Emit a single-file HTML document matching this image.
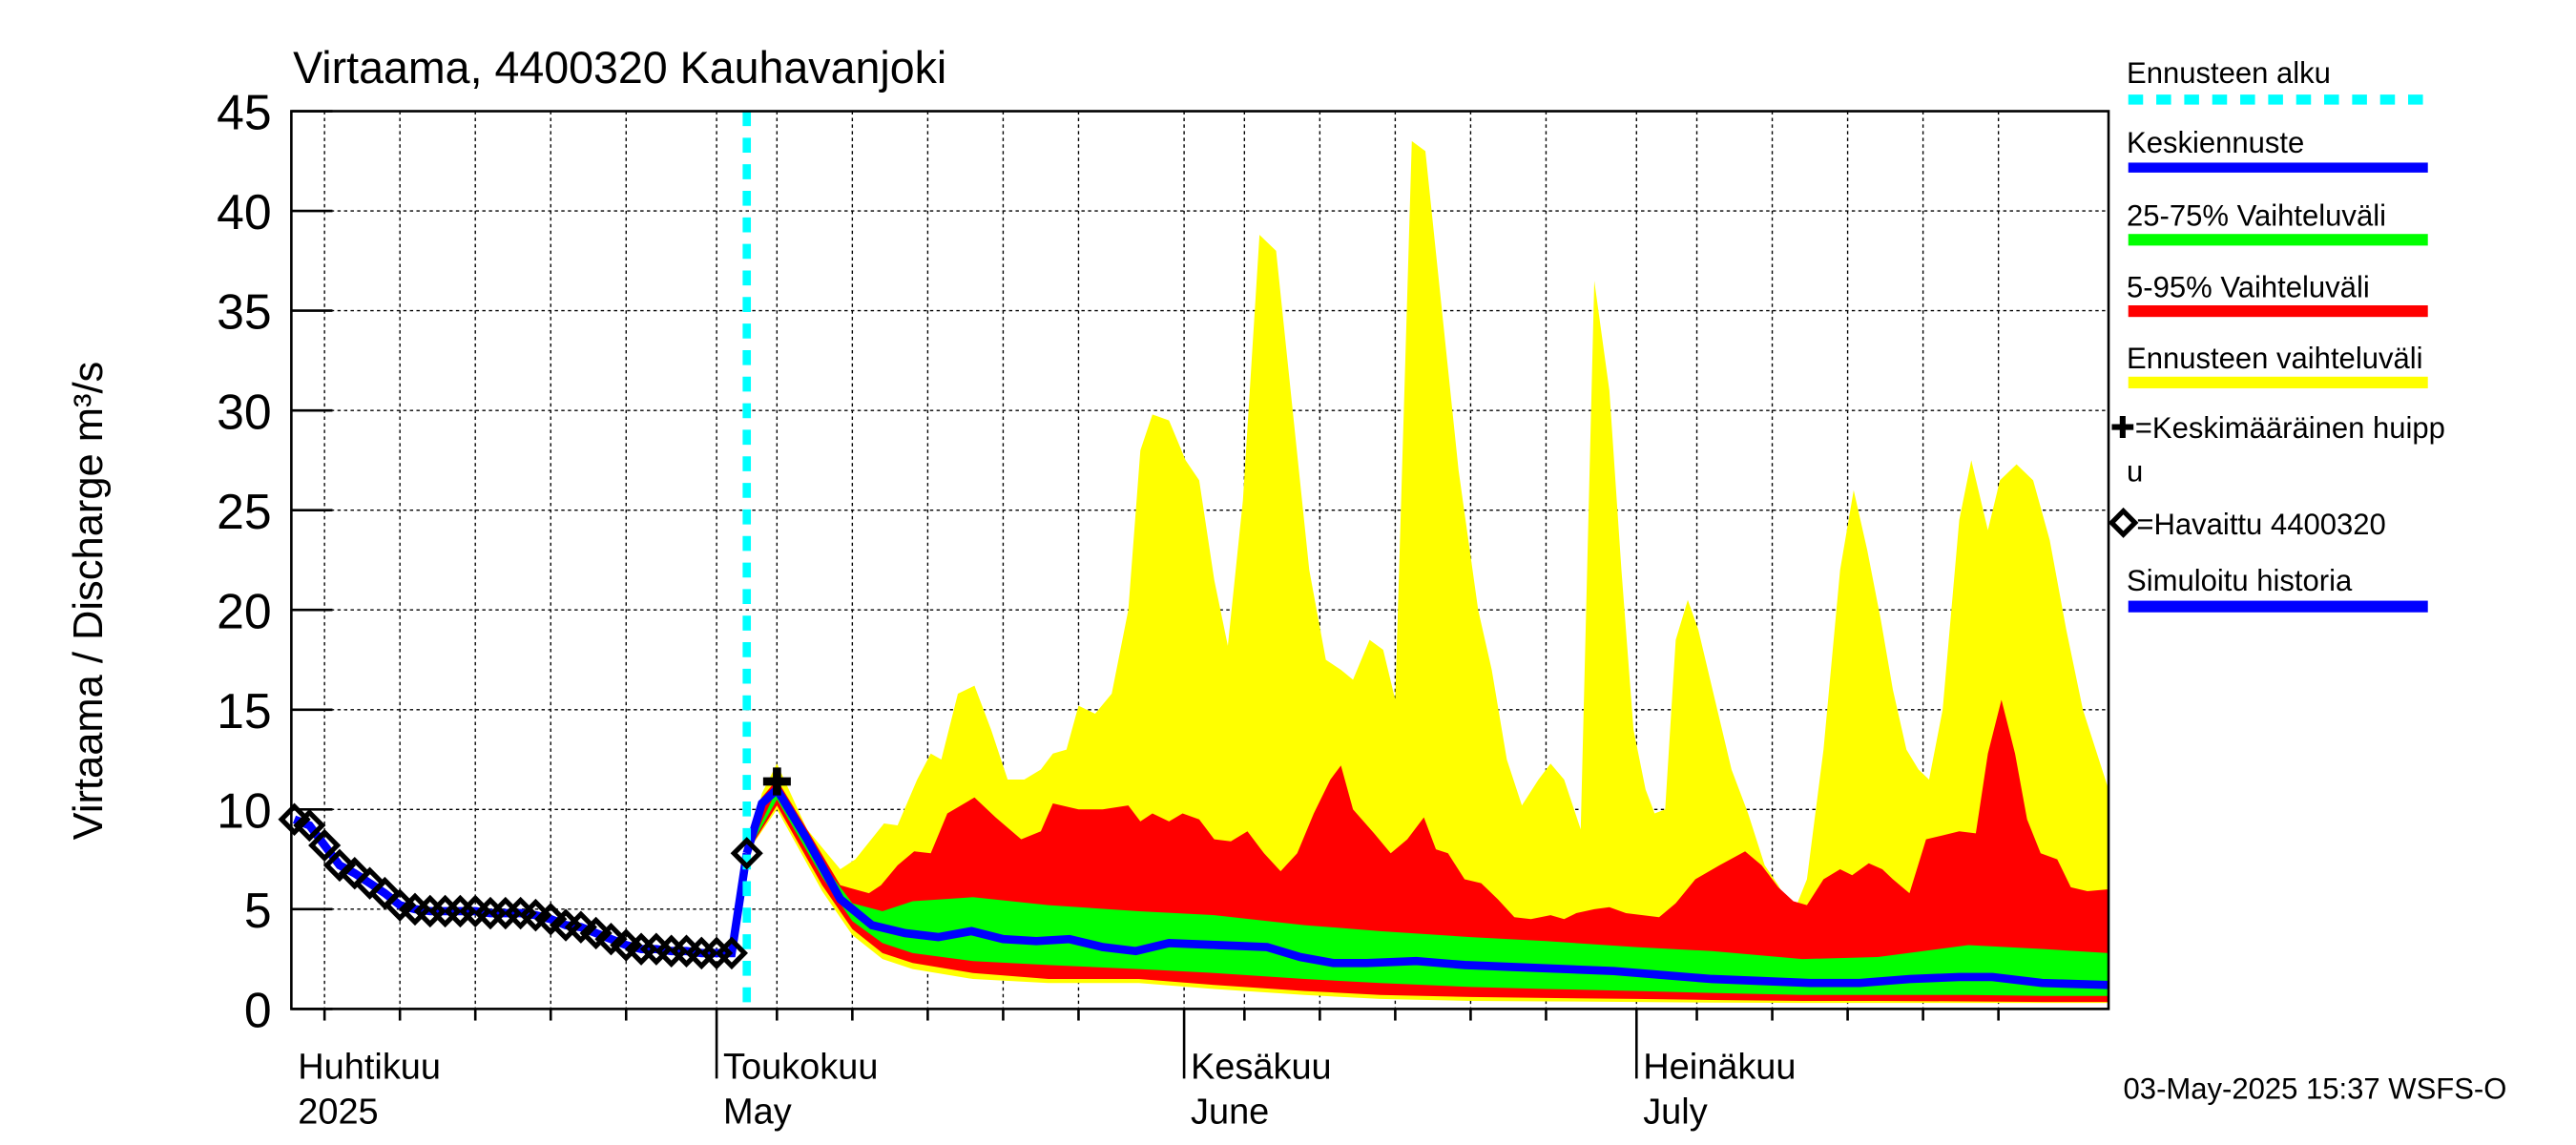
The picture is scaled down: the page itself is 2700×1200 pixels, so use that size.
<!DOCTYPE html>
<html><head><meta charset="utf-8"><style>
html,body{margin:0;padding:0;background:#fff;}
svg{display:block;font-family:"Liberation Sans",sans-serif;}
</style></head><body>
<svg id="chart" width="2700" height="1200" viewBox="0 0 1565 690" preserveAspectRatio="none" xmlns="http://www.w3.org/2000/svg">
<rect width="1565" height="690" fill="#fff"/>
<g id="grid"></g>
<g id="bands"></g>
<g id="lines"></g>
<g id="axes"></g>
<text x="178" y="50" font-size="27">Virtaama, 4400320 Kauhavanjoki</text>
<text transform="translate(62,362) rotate(-90)" text-anchor="middle" font-size="25">Virtaama / Discharge    m³/s</text>
<text x="1290" y="662" font-size="18">03-May-2025 15:37 WSFS-O</text>
<g id="legend" font-size="18">
<text x="1292" y="50">Ennusteen alku</text>
<line x1="1293" y1="60" x2="1475" y2="60" stroke="#00ffff" stroke-width="6" stroke-dasharray="9,8"/>
<text x="1292" y="92">Keskiennuste</text>
<rect x="1293" y="98" width="182" height="6" fill="#0000ff"/>
<text x="1292" y="136">25-75% Vaihteluväli</text>
<rect x="1293" y="141" width="182" height="7" fill="#00ff00"/>
<text x="1292" y="179">5-95% Vaihteluväli</text>
<rect x="1293" y="184" width="182" height="7" fill="#ff0000"/>
<text x="1292" y="222">Ennusteen vaihteluväli</text>
<rect x="1293" y="227" width="182" height="7" fill="#ffff00"/>
<text x="1282" y="264">✚=Keskimääräinen huipp</text>
<text x="1292" y="290">u</text>
<rect x="1285" y="310" width="10" height="10" fill="none" stroke="#000" stroke-width="3" transform="rotate(45 1290 315)"/>
<text x="1298" y="322">=Havaittu 4400320</text>
<text x="1292" y="356">Simuloitu historia</text>
<rect x="1293" y="362" width="182" height="7" fill="#0000ff"/>
</g>
</svg>
<script>
// ---- data ----
const yTicks = [0,5,10,15,20,25,30,35,40,45];
const monthNames = ["Huhtikuu","Toukokuu","Kesäkuu","Heinäkuu"];
const monthNames2 = ["2025","May","June","July"];
const monthStartDays = [0,30,61,91]; // days since Apr 1
const forecastStartDay = 32;
const peakDay = 34;
const peakValue = 11.4;
const obsDays = [2,3,4,5,6,7,8,9,10,11,12,13,14,15,16,17,18,19,20,21,22,23,24,25,26,27,28,29,30,31,32];
const obsValues = [9.5,9.2,8.2,7.2,6.8,6.3,5.8,5.2,5.0,4.9,4.9,4.9,4.9,4.8,4.8,4.8,4.7,4.5,4.2,4.1,3.8,3.5,3.2,3.0,3.0,2.9,2.9,2.8,2.8,2.8,7.8];
const yMaxDays = [32,33,34.0,36.0,38.2,39.2,41.1,42.0,43.3,44.2,44.9,46.0,47.1,48.2,49.3,50.4,51.5,52.3,53.2,54.0,55.1,56.2,57.3,58.1,58.9,60.0,61.1,62.0,63.0,63.9,64.9,66.0,67.1,68.2,69.3,70.4,71.4,72.2,73.3,74.2,75.0,76.1,77.0,78.1,79.2,80.5,81.4,82.4,83.4,84.5,85.3,86.2,87.3,88.2,89.2,90.0,90.8,91.6,92.2,92.9,93.6,94.4,95.1,96.2,97.3,98.4,99.5,100.4,101.4,102.3,103.4,104.5,105.4,106.3,107.2,108.0,108.9,109.7,110.4,111.3,112.4,113.2,114.3,115.1,116.2,117.3,118.4,119.5,120.6,122.3];
const yMaxValues = [7.8,10.8,12.3,9,7,7.5,9.3,9.2,11.5,12.8,12.5,15.8,16.2,14,11.5,11.5,12,12.8,13,15.2,14.8,15.8,20,28,29.8,29.5,27.5,26.5,21.5,18.2,25.5,38.8,38,30,22,17.5,17,16.5,18.5,18,15.5,43.5,43,35,27,20,17,12.5,10.2,11.5,12.3,11.5,9,36.5,31,22,14,11,9.8,10,18.5,20.5,19,15.5,12,9.8,7.2,6.2,4.8,6.5,13,22,26,23,19.5,16,13,12,11.5,15,24.5,27.5,24,26.5,27.3,26.5,23.5,19,15,11];
const rMaxDays = [32,33,34.0,36.0,38.2,40.1,40.9,42.0,43.1,44.2,45.3,47.1,48.5,50.2,51.5,52.3,54.0,55.6,57.3,58.1,58.9,60.0,60.9,62.0,63.0,64.1,65.2,66.3,67.4,68.5,69.6,70.7,71.4,72.2,73.6,74.7,75.8,76.9,77.7,78.5,79.6,80.7,81.8,82.9,84.0,85.3,86.2,87.0,88.2,89.2,90.3,91.4,92.5,93.6,94.9,96.5,98.2,99.3,100.4,101.4,102.3,103.4,104.5,105.3,106.4,107.3,108.0,109.1,110.2,111.3,112.4,113.5,114.3,115.2,116.1,116.9,117.8,118.9,119.8,120.9,122.3];
const rMaxValues = [7.8,10.6,11.5,9,6.2,5.8,6.2,7.2,7.9,7.8,9.8,10.6,9.6,8.5,8.9,10.3,10.0,10.0,10.2,9.4,9.8,9.4,9.8,9.5,8.5,8.4,8.9,7.8,6.9,7.8,9.8,11.5,12.2,10.0,8.8,7.8,8.5,9.6,8.0,7.8,6.5,6.3,5.5,4.6,4.5,4.7,4.5,4.8,5.0,5.1,4.8,4.7,4.6,5.3,6.5,7.2,7.9,7.2,6.1,5.4,5.2,6.5,7.0,6.7,7.3,7.0,6.5,5.8,8.5,8.7,8.9,8.8,12.8,15.5,12.8,9.5,7.8,7.5,6.1,5.9,6.0];
const lowDays = [32,34,37,39,41,43,47,52,58,63,69,74,80,85,91,96,102,107,113,118,122.3];
const gMaxValues = [7.8,11,7.3,5.3,4.9,5.4,5.6,5.2,4.9,4.7,4.2,3.9,3.6,3.4,3.1,2.9,2.5,2.6,3.2,3.0,2.8];
const gMinValues = [7.8,10.5,6.6,4.4,3.3,2.8,2.4,2.2,2.0,1.8,1.5,1.3,1.1,1.0,0.9,0.8,0.7,0.7,0.7,0.65,0.65];
const rMinValues = [7.8,10.2,6.2,4.0,2.8,2.3,1.8,1.5,1.5,1.2,0.9,0.7,0.6,0.55,0.5,0.45,0.4,0.4,0.38,0.35,0.35];
const yMinValues = [7.8,10.0,5.9,3.7,2.5,2.0,1.5,1.3,1.3,1.0,0.7,0.5,0.4,0.38,0.35,0.32,0.3,0.3,0.3,0.3,0.3];
const medDays = [32,33,34,36,38.2,40.3,42.5,44.7,46.9,49,51.2,53.4,55.6,57.8,60,63.3,66.5,68.7,70.9,73.1,76.4,79.6,82.9,86.2,89.5,92.7,96,99.3,102.5,105.8,109.1,112.4,114.6,117.9,122.3];
const medValues = [7.8,10.3,11,8.5,5.5,4.2,3.8,3.6,3.9,3.5,3.4,3.5,3.1,2.9,3.3,3.2,3.1,2.6,2.3,2.3,2.4,2.2,2.1,2.0,1.9,1.7,1.5,1.4,1.3,1.3,1.5,1.6,1.6,1.3,1.2];

// ---- axes ----
const X0=177, X1=1281, Y0=608, Y1=67;
const D0=1.8, D1=122.3;
function xs(d){return X0+(d-D0)/(D1-D0)*(X1-X0);}
function ys(v){return Y0-(v/45)*(Y0-Y1);}
const NS="http://www.w3.org/2000/svg";
function mk(tag,attrs,parent){const e=document.createElementNS(NS,tag);for(const k in attrs)e.setAttribute(k,attrs[k]);parent.appendChild(e);return e;}
const grid=document.getElementById('grid'),bands=document.getElementById('bands'),lines=document.getElementById('lines'),axes=document.getElementById('axes');

yTicks.forEach(t=>{
  if(t>0&&t<45){const l=mk('line',{x1:X0,x2:X1,y1:ys(t),y2:ys(t),stroke:'#000','stroke-width':0.8,'stroke-dasharray':'2,2'},grid);
  
  }
  const tk=mk('line',{x1:X0,x2:X0+25,y1:ys(t),y2:ys(t),stroke:'#000','stroke-width':1.5},axes);
  
  
  const tx=mk('text',{x:X0-12,y:ys(t)+11,'text-anchor':'end','font-size':30},axes);
  tx.textContent=t;
  
  
});
monthStartDays.forEach((ms,i)=>{
  [0,4,9,14,19,24].forEach(o=>{
    const d=ms+o; if(d<D0||d>D1)return;
    const l=mk('line',{x1:xs(d),x2:xs(d),y1:Y1,y2:Y0,stroke:'#000','stroke-width':0.8,'stroke-dasharray':'2,2'},grid);
    
    
    const tk=mk('line',{x1:xs(d),x2:xs(d),y1:Y0,y2:Y0+(o===0?42:7),stroke:'#000','stroke-width':1.5},axes);
    
    
  });
  const lx=Math.max(xs(ms),X0)+4;
  const t1=mk('text',{x:lx,y:650,'font-size':22},axes);t1.textContent=monthNames[i];
  
  
  const t2=mk('text',{x:lx,y:677,'font-size':22},axes);t2.textContent=monthNames2[i];
  
  
});
const frame=mk('rect',{x:X0,y:Y1,width:X1-X0,height:Y0-Y1,fill:'none',stroke:'#000','stroke-width':1.5},axes);



function band(dU,vU,dL,vL,color,name){
  let p=dU.map((d,i)=>xs(d)+','+ys(vU[i]));
  for(let i=dL.length-1;i>=0;i--)p.push(xs(dL[i])+','+ys(vL[i]));
  const e=mk('polygon',{points:p.join(' '),fill:color},bands);
  
  
}
band(yMaxDays,yMaxValues,lowDays,yMinValues,'#ffff00','forecast-range-band');
band(rMaxDays,rMaxValues,lowDays,rMinValues,'#ff0000','band-5-95');
band(lowDays,gMaxValues,lowDays,gMinValues,'#00ff00','band-25-75');

const hist=mk('polyline',{points:obsDays.map((d,i)=>xs(d)+','+ys(obsValues[i])).join(' '),fill:'none',stroke:'#0000ff','stroke-width':5},lines);


const med=mk('polyline',{points:medDays.map((d,i)=>xs(d)+','+ys(medValues[i])).join(' '),fill:'none',stroke:'#0000ff','stroke-width':5},lines);


const fs=mk('line',{x1:xs(forecastStartDay),x2:xs(forecastStartDay),y1:Y1,y2:Y0,stroke:'#00ffff','stroke-width':5,'stroke-dasharray':'9,7'},lines);


obsDays.forEach((d,i)=>{
  const cx=xs(d),cy=ys(obsValues[i]);
  const m=mk('rect',{x:cx-5.5,y:cy-5.5,width:11,height:11,fill:'none',stroke:'#000','stroke-width':3,transform:`rotate(45 ${cx} ${cy})`},lines);
  
  
});
const pk=mk('text',{x:xs(peakDay),y:ys(peakValue)+8,'text-anchor':'middle','font-size':22,'font-weight':'bold'},lines);
pk.textContent='✚';


</script>
</body></html>
